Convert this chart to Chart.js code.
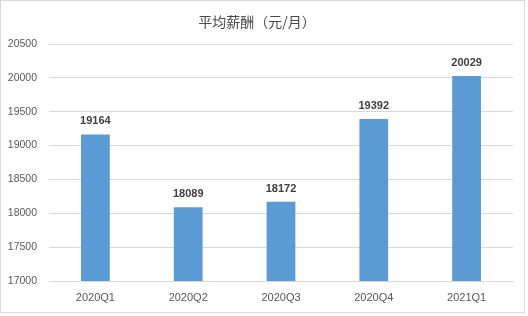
<!DOCTYPE html>
<html>
<head>
<meta charset="utf-8">
<script src="https://cdn.jsdelivr.net/npm/chart.js@4"></script>
<style>
  html, body { margin: 0; padding: 0; background: #fff; }
  #wrap { position: absolute; left: 0; top: 0; width: 528px; height: 316px; }
</style>
</head>
<body>
<div id="wrap"><canvas id="myChart" width="528" height="316"></canvas></div>
<script>
// 平均薪酬 数据
const quarters = ["2020Q1", "2020Q2", "2020Q3", "2020Q4", "2021Q1"];
const salary = [19164, 18089, 18172, 19392, 20029];
const yMin = 17000;
const yMax = 20500;
const yStep = 500;
const titleText = "平均薪酬（元/月）";

// 边框 + 标题 + 数据标签
const extras = {
  id: "extras",
  beforeDraw(chart) {
    const ctx = chart.ctx;
    ctx.save();
    ctx.fillStyle = "#ffffff";
    ctx.fillRect(0, 0, chart.width, chart.height);
    ctx.strokeStyle = "#d9d9d9";
    ctx.lineWidth = 1;
    ctx.strokeRect(0.5, 0.5, 524, 312);
    ctx.restore();
  },
  afterDatasetsDraw(chart) {
    const ctx = chart.ctx;
    ctx.save();
    ctx.fillStyle = "#4a4a4a";
    ctx.font = "14px 'Noto Sans CJK SC'";
    ctx.textAlign = "center";
    ctx.textBaseline = "middle";
    ctx.fillText(titleText, 257, 22);

    ctx.fillStyle = "#404040";
    ctx.font = "bold 11px 'Liberation Sans'";
    chart.getDatasetMeta(0).data.forEach((bar, i) => {
      ctx.fillText(salary[i], bar.x, bar.y - 13);
    });
    ctx.restore();
  }
};

new Chart(document.getElementById("myChart"), {
  type: "bar",
  data: {
    labels: quarters,
    datasets: [{
      data: salary,
      backgroundColor: "#5b9bd5",
      barPercentage: 0.31,
      categoryPercentage: 1
    }]
  },
  options: {
    responsive: false,
    animation: false,
    layout: { padding: { top: 44, right: 15, left: 0, bottom: 0 } },
    plugins: { legend: { display: false }, title: { display: false }, tooltip: { enabled: false } },
    scales: {
      x: {
        grid: { display: false, drawTicks: false },
        border: { color: "#d9d9d9" },
        ticks: { color: "#595959", font: { size: 11, family: "Liberation Sans" }, padding: 10 },
        afterFit(scale) { scale.height = 35; }
      },
      y: {
        min: yMin,
        max: yMax,
        ticks: {
          stepSize: yStep,
          color: "#595959",
          font: { size: 10.5, family: "Liberation Sans" },
          padding: 12,
          callback: v => String(v)
        },
        grid: { color: "#d9d9d9", drawTicks: false },
        border: { display: false },
        afterFit(scale) { scale.width = 49; }
      }
    }
  },
  plugins: [extras]
});
</script>
</body>
</html>
